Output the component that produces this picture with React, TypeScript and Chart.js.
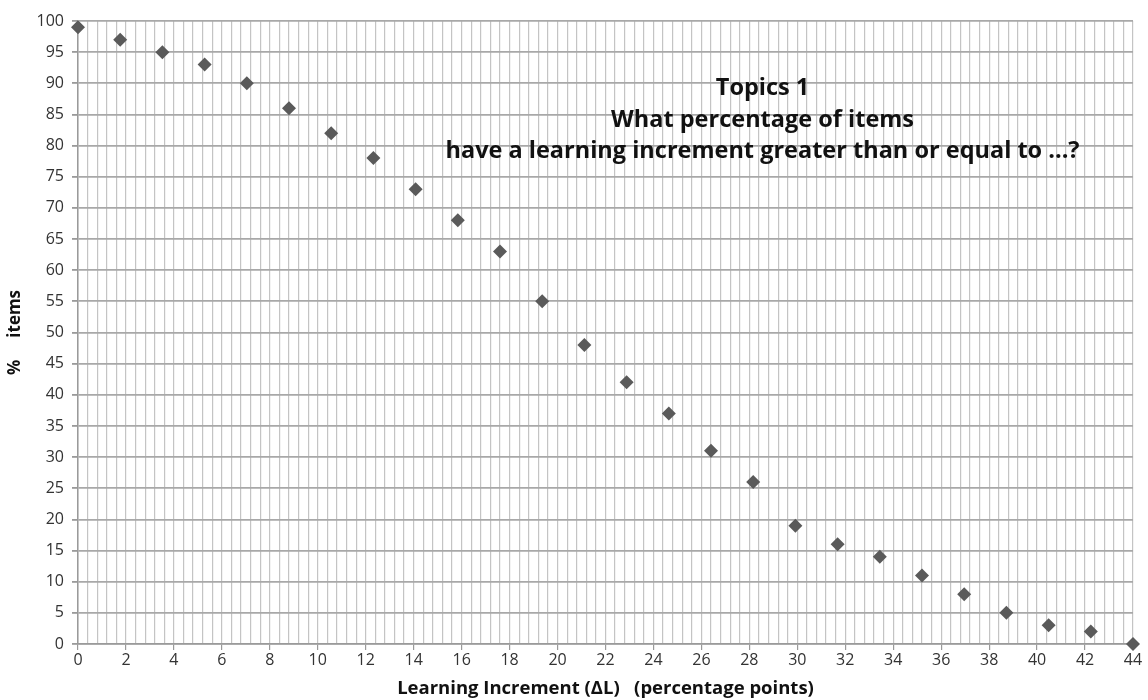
import React, { useEffect, useRef } from "react";
import { Chart, registerables } from "chart.js";

Chart.register(...registerables);

const xValues = [0, 1.76, 3.52, 5.28, 7.04, 8.8, 10.56, 12.32, 14.08, 15.84, 17.6, 19.36, 21.12, 22.88, 24.64, 26.4, 28.16, 29.92, 31.68, 33.44, 35.2, 36.96, 38.72, 40.48, 42.24, 44];
const yValues = [99, 97, 95, 93, 90, 86, 82, 78, 73, 68, 63, 55, 48, 42, 37, 31, 26, 19, 16, 14, 11, 8, 5, 3, 2, 0];
const titleLines = ["Topics 1", "What percentage of items", "have a learning increment greater than or equal to ...?"];
const xTitle = "Learning Increment (\u0394L)   (percentage points)";
const yTitle = "%     items";

const FONT = "'Open Sans', Lato, sans-serif";

const isMajor = (v: number) => Math.abs(v / 2 - Math.round(v / 2)) < 1e-6;

const inPlotTitle = {
  id: "inPlotTitle",
  afterDatasetsDraw(chart: any) {
    const { ctx } = chart;
    const xs = chart.scales.x;
    const cx = xs.getPixelForValue(28.55);
    ctx.save();
    ctx.fillStyle = "#111";
    ctx.font = `bold 23.5px ${FONT}`;
    ctx.textAlign = "center";
    ctx.textBaseline = "alphabetic";
    const ys = [95, 127, 158];
    titleLines.forEach((t, i) => ctx.fillText(t, cx, ys[i]));
    ctx.restore();
  },
};

export default function App() {
  const ref = useRef<HTMLCanvasElement>(null);
  useEffect(() => {
    document.body.style.margin = "0";
    const data = xValues.map((x, i) => ({ x, y: yValues[i] }));
    const chart = new Chart(ref.current!, {
      type: "scatter",
      data: {
        datasets: [
          {
            data,
            clip: false,
            pointStyle: "rectRot",
            pointRadius: 7,
            pointHoverRadius: 7,
            backgroundColor: "#5a5a5a",
            borderColor: "#5a5a5a",
            borderWidth: 0,
          },
        ],
      },
      options: {
        animation: false,
        responsive: false,
        maintainAspectRatio: false,
        layout: { padding: { top: 21, right: 15, left: 0, bottom: 0 } },
        plugins: { legend: { display: false }, tooltip: { enabled: false } },
        scales: {
          x: {
            type: "linear",
            min: 0,
            max: 44,
            afterFit: (s: any) => {
              s.height = 56;
            },
            ticks: {
              stepSize: 0.4,
              autoSkip: false,
              maxRotation: 0,
              minRotation: 0,
              color: "#333",
              font: { family: FONT, size: 16 },
              padding: 1,
              callback: (v: any) => (isMajor(Number(v)) ? String(Math.round(Number(v))) : ""),
            },
            grid: {
              color: "#c4c4c4",
              lineWidth: 1.2,
              tickLength: 6,
              tickColor: (c: any) => (c.tick && isMajor(c.tick.value) ? "#9a9a9a" : "rgba(0,0,0,0)"),
            },
            border: { color: "#9a9a9a", width: 1.5 },
            title: {
              display: true,
              text: xTitle,
              color: "#111",
              font: { family: FONT, size: 18.5, weight: "bold" },
              padding: { top: 0, bottom: 0 },
            },
          },
          y: {
            type: "linear",
            min: 0,
            max: 100,
            afterFit: (s: any) => {
              s.width = 78;
            },
            ticks: {
              stepSize: 5,
              color: "#333",
              font: { family: FONT, size: 16 },
              padding: 8,
            },
            grid: {
              color: "#a8a8a8",
              lineWidth: 1.8,
              tickLength: 6,
              tickColor: "#9a9a9a",
            },
            border: { color: "#9a9a9a", width: 1.5 },
            title: {
              display: true,
              text: yTitle,
              color: "#111",
              font: { family: FONT, size: 17, weight: "bold" },
              padding: { top: 5, bottom: 0 },
            },
          },
        },
      },
      plugins: [inPlotTitle],
    });
    return () => chart.destroy();
  }, []);
  return (
    <div style={{ width: 1148, height: 700, background: "#fff" }}>
      <canvas ref={ref} width={1148} height={700} style={{ display: "block" }} />
    </div>
  );
}
